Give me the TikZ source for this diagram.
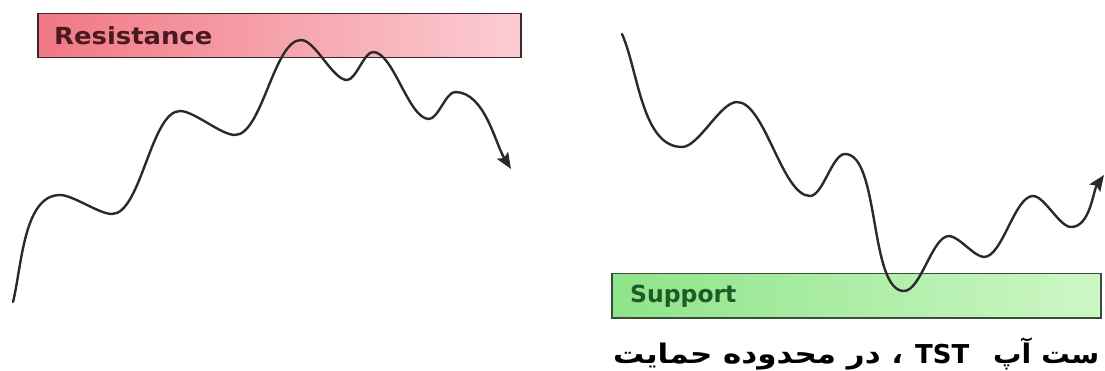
\documentclass[tikz,border=0pt]{standalone}
\usepackage{fontspec}
\setmainfont{DejaVu Sans}
\newfontfamily\arabicfont[Script=Arabic]{DejaVu Sans}
\TeXXeTstate=1
\usetikzlibrary{arrows.meta}
\definecolor{resL}{HTML}{F07884}
\definecolor{resR}{HTML}{FCCDD3}
\definecolor{resB}{HTML}{3A2A2A}
\definecolor{resT}{HTML}{4A1A20}
\definecolor{supL}{HTML}{8EE489}
\definecolor{supR}{HTML}{CDF7C5}
\definecolor{supB}{HTML}{3C4C3C}
\definecolor{supT}{HTML}{1F5A28}
\definecolor{curve}{HTML}{2A2A2A}
\tikzset{
  zonebox/.style={draw, line width=1.5pt, rectangle, inner sep=0pt},
  zonelabel/.style={anchor=base west, inner sep=0pt, font=\fontsize{23.5}{23.5}\selectfont\bfseries},
  price/.style={draw=curve, line width=2.4pt, line cap=round, line join=round,
    -{Stealth[length=16pt,width=13pt,inset=3pt]}},
  wave/.style={looseness=0.6},
  captext/.style={anchor=base west, inner sep=0pt, font=\arabicfont\fontsize{27}{27}\selectfont\bfseries},
}
\begin{document}
\begin{tikzpicture}[x=1pt,y=-1pt]
\useasboundingbox (0,0) rectangle (1105,371);
\clip (0,0) rectangle (1105,371);
\fill[white] (0,0) rectangle (1105,371);
% Resistance zone
\node[zonebox, draw=resB, left color=resL, right color=resR,
  minimum width=483pt, minimum height=44pt, anchor=north west] (res) at (37,13) {};
\node[zonelabel, text=resT] (reslbl) at (54,45) {\scalebox{1.1}[1]{Resistance}};
% Support zone
\node[zonebox, draw=supB, left color=supL, right color=supR,
  minimum width=489pt, minimum height=44pt, anchor=north west] (sup) at (611,273) {};
\node[zonelabel, text=supT] (suplbl) at (630,302) {Support};
% Left price curve
\draw[price] (13,302) to[out=76,in=180,looseness=0.8] (60,195)
  to[out=0,in=180,wave] (112,214)
  to[out=0,in=180,wave] (180,111)
  to[out=0,in=180,wave] (235,135)
  to[out=0,in=180,wave] (301,40)
  to[out=0,in=180,wave] (347,80)
  to[out=0,in=180,wave] (373,52)
  to[out=0,in=180,wave] (429,119)
  to[out=0,in=180,wave] (455,92)
  to[out=0,in=122,looseness=0.8] (511,169);
% Right price curve
\draw[price] (622,34) to[out=-66,in=180,looseness=0.8] (682,147)
  to[out=0,in=180,wave] (737,102)
  to[out=0,in=180,wave] (810,196)
  to[out=0,in=180,wave] (845,154)
  to[out=0,in=180,wave] (904,291)
  to[out=0,in=180,wave] (949,236)
  to[out=0,in=180,wave] (984,257)
  to[out=0,in=180,wave] (1033,196)
  to[out=0,in=180,wave] (1071,227)
  to[out=0,in=-125,looseness=0.8] (1104,175);
% Caption
\node[captext] (cap1) at (613,363)
  {\resizebox{290pt}{\height}{\beginR ، در محدوده حمایت\endR}};
\node[captext, font=\fontsize{26}{26}\selectfont\bfseries] (cap2) at (915,363) {TST};
\node[captext] (cap3) at (993,363)
  {\scalebox{1.05}[1]{\beginR ست آپ\endR}};
\end{tikzpicture}
\end{document}
